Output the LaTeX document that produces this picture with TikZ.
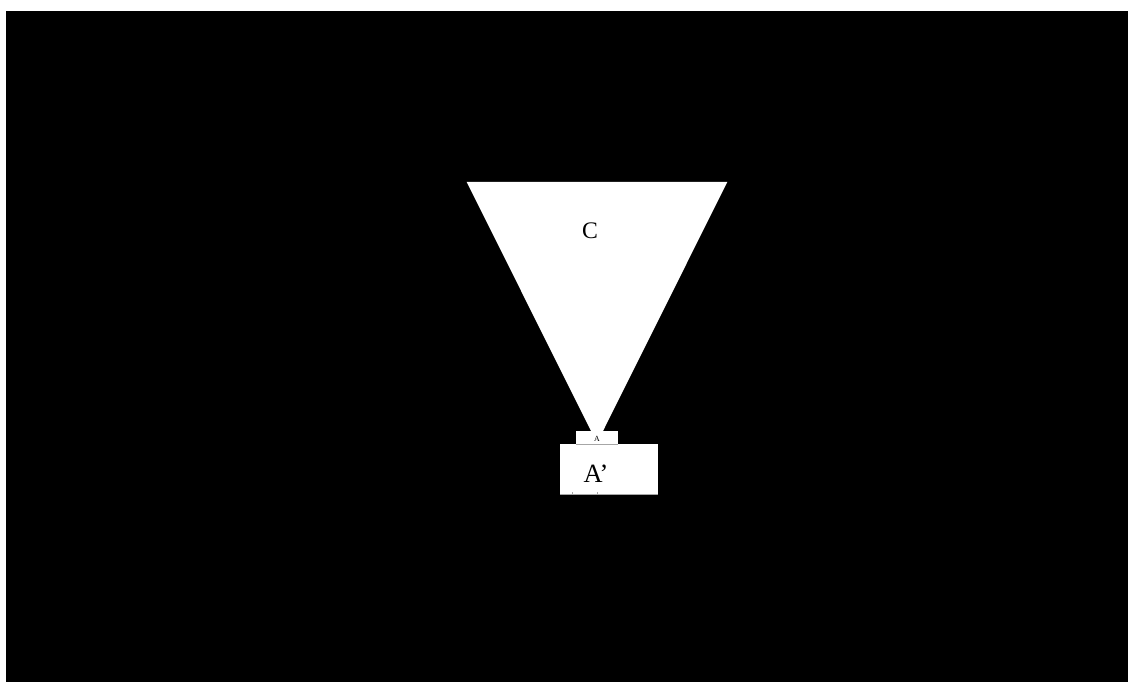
\documentclass[tikz,border=0pt]{standalone}
\usepackage{fontspec}
\setmainfont{Liberation Serif}
\usetikzlibrary{positioning}

\begin{document}
\begin{tikzpicture}[x=0.02cm, y=-0.02cm,
	every node/.style={inner sep=0pt, outer sep=0pt},
	whitebox/.style={fill=white, draw=none, anchor=north west}]
	\useasboundingbox (0,0) rectangle (1128,682);
	\fill[black] (6,11) rectangle (1128,682);
	% cone
	\fill[white] (466.7,182) -- (727.3,182) -- (597,443) -- cycle;
	\node (labelC) at (590,231) {\fontsize{13.5}{15}\selectfont C};
	% boxes under the apex
	\node[whitebox, minimum width=42*0.02cm, minimum height=13*0.02cm] (boxA) at (576,431) {};
	\node[whitebox, minimum width=98*0.02cm, minimum height=50*0.02cm] (boxAp) at (560,444) {};
	\draw[gray!70, line width=0.3pt] (boxA.south west) -- (boxA.south east);
	\draw[gray!70, line width=0.3pt] (boxAp.south west) -- (boxAp.south east);
	\node (labelA) at (597,438.5) {\fontsize{4.5}{5}\selectfont A};
	\node (labelAp) at (596,474) {\fontsize{15}{17}\selectfont A’};
	\draw[gray!70, line width=0.3pt] (572,494) -- (572,492) (597,494) -- (597,492);
\end{tikzpicture}
\end{document}
